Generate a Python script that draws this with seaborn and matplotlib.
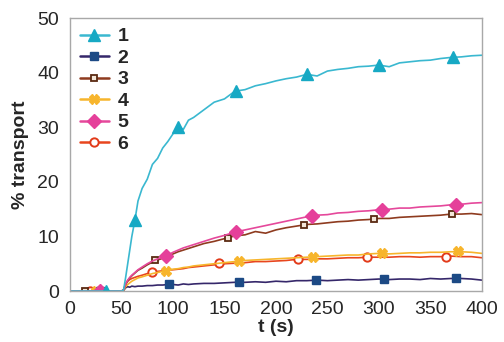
import numpy as np
import pandas as pd
import matplotlib
matplotlib.use("Agg")
import matplotlib.pyplot as plt
from matplotlib.lines import Line2D
import seaborn as sns

# time grid (s)
t = [0, 10, 20, 30, 40, 50, 52, 54, 56, 58, 60, 63, 66, 70, 75, 80, 85, 90, 95, 100,
     105, 110, 115, 120, 130, 140, 150, 160, 170, 180, 190, 200, 210, 220, 230, 240,
     250, 260, 270, 280, 290, 300, 310, 320, 330, 340, 350, 360, 370, 380, 390, 400]

zero = [0, 0, 0, 0, 0, 0]
s1 = zero + [0.2, 2.5, 5.0, 7.5, 10.0, 13.0, 16.5, 18.8, 20.5, 23.2, 24.3, 26.2, 27.4, 28.8,
             30.2, 29.6, 31.3, 31.8, 33.2, 34.6, 35.2, 36.6, 36.9, 37.6, 38.0, 38.5, 38.9, 39.2,
             39.7, 39.4, 40.3, 40.6, 40.8, 41.1, 41.2, 41.4, 41.1, 41.8, 42.0, 42.2, 42.3, 42.6,
             42.8, 42.9, 43.1, 43.2]
s2 = zero + [0.1, 0.6, 0.8, 0.7, 0.9, 0.8, 0.9, 0.9, 1.0, 1.0, 1.1, 1.1, 1.2, 1.2,
             1.1, 1.3, 1.2, 1.3, 1.4, 1.4, 1.5, 1.6, 1.6, 1.7, 1.6, 1.8, 1.7, 1.9,
             1.9, 2.0, 1.9, 2.0, 2.1, 2.0, 2.1, 2.2, 2.1, 2.2, 2.2, 2.1, 2.3, 2.2,
             2.3, 2.3, 2.2, 2.0]
s3 = zero + [0.2, 1.2, 1.9, 2.4, 2.8, 3.3, 3.8, 4.2, 4.8, 5.3, 5.7, 6.0, 6.4, 6.8,
             7.2, 7.5, 7.8, 8.1, 8.7, 9.1, 9.6, 10.1, 10.3, 10.9, 10.6, 11.2, 11.6, 11.9,
             12.2, 12.3, 12.5, 12.7, 12.8, 13.0, 13.1, 13.3, 13.3, 13.5, 13.6, 13.7, 13.8, 13.9,
             14.1, 14.1, 14.2, 14.0]
s4 = zero + [0.1, 0.8, 1.2, 1.5, 1.8, 2.1, 2.4, 2.6, 2.9, 3.2, 3.4, 3.6, 3.8, 4.0,
             4.1, 4.3, 4.4, 4.6, 4.8, 5.0, 5.2, 5.4, 5.6, 5.7, 5.8, 5.9, 6.0, 6.1,
             6.2, 6.3, 6.4, 6.5, 6.6, 6.6, 6.8, 6.9, 6.8, 6.9, 7.0, 7.0, 7.1, 7.1,
             7.2, 7.2, 7.1, 6.9]
s5 = zero + [0.2, 1.3, 2.0, 2.5, 2.9, 3.4, 3.9, 4.4, 5.0, 5.5, 5.9, 6.2, 6.6, 7.1,
             7.5, 7.9, 8.2, 8.5, 9.1, 9.7, 10.2, 10.8, 11.2, 11.6, 12.0, 12.4, 12.8, 13.2,
             13.6, 13.9, 14.0, 14.3, 14.4, 14.6, 14.7, 14.9, 15.0, 15.2, 15.2, 15.4, 15.5, 15.6,
             15.8, 15.9, 16.1, 16.2]
s6 = zero + [0.2, 1.3, 1.8, 2.1, 2.3, 2.5, 2.7, 2.9, 3.2, 3.4, 3.6, 3.7, 3.8, 3.9,
             4.0, 4.1, 4.3, 4.4, 4.6, 4.8, 5.0, 5.1, 5.2, 5.4, 5.4, 5.5, 5.6, 5.8,
             5.8, 5.9, 5.9, 6.0, 6.1, 6.1, 6.2, 6.2, 6.2, 6.3, 6.3, 6.2, 6.3, 6.3,
             6.4, 6.3, 6.3, 6.1]

# marker positions
m1x = [35, 63, 105, 161, 230, 300, 372]
m1y = [0, 13.0, 30.1, 36.7, 39.7, 41.4, 42.8]
m2x = [29, 96, 164, 239, 305, 375]
m2y = [0, 1.2, 1.7, 2.0, 2.2, 2.3]
m3x = [15, 83, 153, 227, 295, 371]
m3y = [0, 5.6, 9.8, 12.1, 13.2, 14.1]
m4x = [25, 93, 164, 236, 303, 377]
m4y = [0, 3.7, 5.5, 6.3, 7.0, 7.3]
m5x = [29, 93, 161, 235, 303, 375]
m5y = [0, 6.4, 10.9, 13.8, 14.9, 15.8]
m6x = [19, 80, 145, 221, 288, 365]
m6y = [0, 3.5, 5.2, 5.8, 6.2, 6.3]

labels = ["1", "2", "3", "4", "5", "6"]
colors = ["#3ab8d0", "#35276a", "#8e3b1f", "#f7b52c", "#e5489b", "#e8461e"]
mcolors = ["#17a9c4", "#1c4a85", "#5a2a12", "#f7b52c", "#e5409a", "#e23a1a"]
markers = ["^", "s", "s", "X", "D", "o"]
msizes = [8, 6, 4.5, 7, 7, 6]

sns.set_style("white")
plt.rcParams["font.family"] = ["Liberation Sans", "DejaVu Sans"]

fig = plt.figure(figsize=(5.04, 3.42), dpi=100)
ax = fig.add_axes([0.139, 0.149, 0.817, 0.798])

series = [s1, s2, s3, s4, s5, s6]
mx = [m1x, m2x, m3x, m4x, m5x, m6x]
my = [m1y, m2y, m3y, m4y, m5y, m6y]

order = [1, 5, 3, 2, 4, 0]
for i in order:
    sns.lineplot(x=t, y=series[i], color=colors[i], lw=1.2, ax=ax, legend=False)
    if i == 2:
        ax.plot(mx[i], my[i], ls="none", marker="s", ms=msizes[i], mfc="#f3e6d8",
                mec=mcolors[i], mew=1.3)
    elif i == 5:
        ax.plot(mx[i], my[i], ls="none", marker="o", ms=msizes[i], mfc="white",
                mec=mcolors[i], mew=1.4)
    else:
        ax.plot(mx[i], my[i], ls="none", marker=markers[i], ms=msizes[i],
                color=mcolors[i], mec=mcolors[i])

handles = []
for i in range(6):
    if i == 2:
        h = Line2D([], [], color=colors[i], lw=1.8, marker="s", ms=4.5, mfc="#f3e6d8",
                   mec=mcolors[i], mew=1.3)
    elif i == 5:
        h = Line2D([], [], color=colors[i], lw=1.8, marker="o", ms=6, mfc="white",
                   mec=mcolors[i], mew=1.4)
    else:
        h = Line2D([], [], color=colors[i], lw=1.8, marker=markers[i], ms=msizes[i],
                   mfc=mcolors[i], mec=mcolors[i])
    handles.append(h)

ax.set_xlim(0, 400)
ax.set_ylim(0, 50)
ax.set_xticks(range(0, 401, 50))
ax.set_yticks(range(0, 51, 10))
ax.tick_params(axis="x", direction="in", length=4, color="#aaaaaa", labelsize=14, pad=7)
ax.tick_params(axis="y", direction="out", length=4, color="#aaaaaa", labelsize=14, pad=4)
for sp in ax.spines.values():
    sp.set_color("#a8a8a8")
    sp.set_linewidth(1.0)

ax.set_xlabel("t (s)", fontsize=14, fontweight="bold", labelpad=1)
ax.set_ylabel("% transport", fontsize=14, fontweight="bold", labelpad=6)

leg = ax.legend(handles, labels, loc="upper left", frameon=False, handlelength=1.5,
                handletextpad=0.45, labelspacing=0.2, borderaxespad=0.3,
                borderpad=0.2, prop={"weight": "bold", "size": 14})

fig.savefig("out.png", dpi=100)
